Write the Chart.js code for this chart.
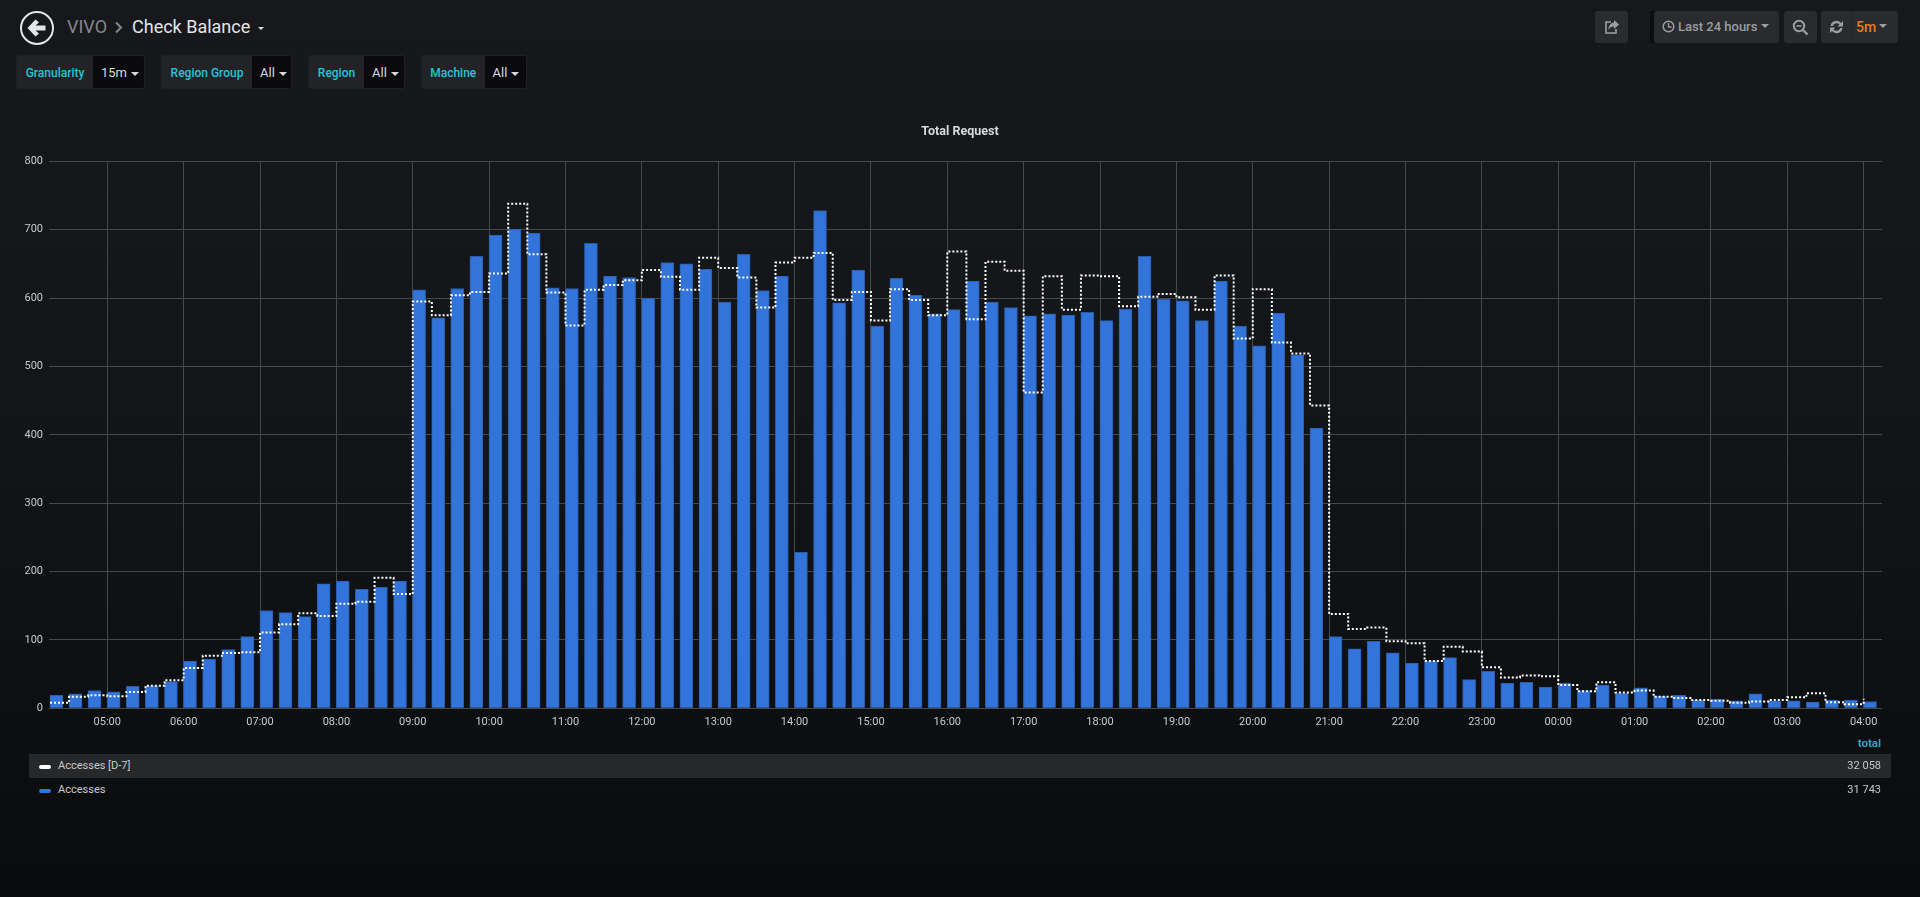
<!DOCTYPE html>
<html>
<head>
<meta charset="utf-8">
<title>Check Balance</title>
<script src="https://cdn.jsdelivr.net/npm/chart.js@4"></script>
<style>
html, body { margin: 0; padding: 0; width: 1920px; height: 897px; overflow: hidden; }
body { background: linear-gradient(#17181b 0, #141518 400px, #0a0b0d 897px); font-family: Roboto, sans-serif; color: #d8d9da; position: relative; }
.abs { position: absolute; white-space: nowrap; }
.crumb { font-size: 18px; line-height: 24px; top: 15px; }
.var { position: absolute; top: 55px; height: 34px; box-sizing: border-box; line-height: 34px; font-size: 12px; border: 1px solid #1f2024; }
.var.lab { background: #222326; color: #24c4d8; font-weight: 500; text-align: center; border-radius: 3px 0 0 3px; border-right: 0; }
.var.val { background: #0a0a0c; color: #d8d9da; font-size: 13px; padding-left: 8px; border-radius: 0 3px 3px 0; border-left: 0; }
.caret { display: inline-block; width: 0; height: 0; border-left: 4.5px solid transparent; border-right: 4.5px solid transparent; border-top: 4.5px solid currentColor; vertical-align: middle; margin-left: 4px; }
.btn { position: absolute; top: 11px; height: 32px; background: #2a2b2e; border-radius: 3px; color: #9b9da1; font-size: 13px; line-height: 32px; font-weight: 500; }
.btn svg { position: absolute; }
#chart-wrap { position: absolute; left: 0; top: 110px; width: 1920px; height: 640px; }
.row { position: absolute; left: 29px; width: 1862px; height: 24px; line-height: 24px; font-size: 11px; color: #c7c9cc; }
.row .swatch { position: absolute; left: 10px; top: 11px; width: 12px; height: 4px; border-radius: 2px; }
.row .name { position: absolute; left: 29px; }
.row .total { position: absolute; right: 10px; }
</style>
</head>
<body>
<svg class="abs" style="left:19px;top:10px" width="36" height="36" viewBox="0 0 36 36">
  <circle cx="18" cy="18" r="16" fill="none" stroke="#e4e5e6" stroke-width="2"/>
  <path d="M8.5 18 L16.5 9.5 L20 12.5 L16.5 15.5 H26.5 V20.5 H16.5 L20 23.5 L16.5 26.5 Z" fill="#e4e5e6"/>
</svg>
<div class="abs crumb" style="left:67px;color:#85878a">VIVO</div>
<svg class="abs" style="left:114px;top:21px" width="10" height="13" viewBox="0 0 10 13"><path d="M2 1.5 L7 6.5 L2 11.5" fill="none" stroke="#85878a" stroke-width="2"/></svg>
<div class="abs crumb" style="left:132px;color:#e4e5e6">Check Balance</div>
<div class="abs" style="left:258px;top:27px;width:0;height:0;border-left:3.5px solid transparent;border-right:3.5px solid transparent;border-top:3.5px solid #d8d9da"></div>

<div id="vars"></div>

<div class="btn" style="left:1595px;width:33px">
  <svg style="left:9px;top:8px" width="16" height="16" viewBox="0 0 16 16"><path d="M10 1 L15 5.5 L10 10 V7.5 C7 7.5 5.5 8.5 4.5 11 C4.5 7 6.5 4 10 3.5 Z" fill="#9b9da1"/><path d="M7 3 H2 V14 H12 V10" fill="none" stroke="#9b9da1" stroke-width="1.6"/></svg>
</div>
<div class="abs" style="left:1650px;top:11px;width:6px;height:32px;background:#0c0d0f"></div>
<div class="btn" style="left:1654px;width:125px">
  <svg style="left:8px;top:9px" width="13" height="13" viewBox="0 0 13 13"><circle cx="6.5" cy="6.5" r="5.3" fill="none" stroke="#9b9da1" stroke-width="1.5"/><path d="M6.5 3 V7 H9.5" fill="none" stroke="#9b9da1" stroke-width="1.3"/></svg>
  <span style="position:absolute;left:24px">Last 24 hours</span>
  <span class="caret" style="position:absolute;left:107px;top:13px;margin:0"></span>
</div>
<div class="btn" style="left:1784px;width:33px">
  <svg style="left:8px;top:8px" width="17" height="17" viewBox="0 0 17 17"><circle cx="7" cy="7" r="5.2" fill="none" stroke="#9b9da1" stroke-width="2"/><path d="M4.5 7 H9.5" stroke="#9b9da1" stroke-width="1.6"/><path d="M11 11 L15.5 15.5" stroke="#9b9da1" stroke-width="2.4"/></svg>
</div>
<div class="btn" style="left:1821px;width:77px">
  <svg style="left:8px;top:8px" width="15" height="16" viewBox="0 0 15 16"><path d="M1.5 7 A6 6 0 0 1 12 4 L14 2 V7.5 H8.5 L10.5 5.5 A4 4 0 0 0 3.8 7 Z M13.5 9 A6 6 0 0 1 3 12 L1 14 V8.5 H6.5 L4.5 10.5 A4 4 0 0 0 11.2 9 Z" fill="#9b9da1"/></svg>
  <div style="position:absolute;left:30px;top:0;width:1px;height:32px;background:#232427"></div>
  <span style="position:absolute;left:35px;color:#eb7b18;font-size:14px">5m</span>
  <span class="caret" style="position:absolute;left:58px;top:13px;margin:0"></span>
</div>

<div id="chart-wrap"><canvas id="totalRequestChart" width="1920" height="640"></canvas></div>

<div class="abs" style="right:39px;top:736px;font-size:11.5px;font-weight:700;color:#2fa3cf">total</div>
<div id="legend"></div>

<script>
const categories = [
  '04:15','04:30','04:45','05:00','05:15','05:30','05:45','06:00','06:15','06:30','06:45','07:00',
  '07:15','07:30','07:45','08:00','08:15','08:30','08:45','09:00','09:15','09:30','09:45','10:00',
  '10:15','10:30','10:45','11:00','11:15','11:30','11:45','12:00','12:15','12:30','12:45','13:00',
  '13:15','13:30','13:45','14:00','14:15','14:30','14:45','15:00','15:15','15:30','15:45','16:00',
  '16:15','16:30','16:45','17:00','17:15','17:30','17:45','18:00','18:15','18:30','18:45','19:00',
  '19:15','19:30','19:45','20:00','20:15','20:30','20:45','21:00','21:15','21:30','21:45','22:00',
  '22:15','22:30','22:45','23:00','23:15','23:30','23:45','00:00','00:15','00:30','00:45','01:00',
  '01:15','01:30','01:45','02:00','02:15','02:30','02:45','03:00','03:15','03:30','03:45','04:00'
];
const accessesD7 = [
  8,17,19,17.5,24,33,41,59,77,81,82,111,
  123,139,135,153,156,191,167,595,575,604,609,636,
  738,664,608,560,612,619,626,641,631,612,659,644,
  630,586,652,659,666,597,609,567,613,597,575,668,
  569,653,640,462,632,583,633,632,588,602,606,601,
  583,633,541,613,535,519,443,138,116,118,98,95,
  69,90,83,60,45,48,47,34,25,38,23,26,
  17,15,12,11,8,10,12,16,22,9,6,14
];
const accesses = [
  19,21,26,24,32,33,39,69,72,86,105,143,
  140,134,182,186,174,177,186,612,571,614,661,692,
  701,695,615,614,680,632,630,600,652,650,642,594,
  664,611,632,228,728,593,641,559,629,604,577,583,
  625,594,586,574,577,575,579,567,584,661,598,596,
  567,625,559,530,578,517,410,105,87,98,81,66,
  69,74,42,54,37,38,31,37,26,34,22,30,
  18,19,12,13,11,21,11,11,9,12,12,10
];
const hourLabels = [
  '05:00','06:00','07:00','08:00','09:00','10:00','11:00','12:00','13:00','14:00','15:00','16:00',
  '17:00','18:00','19:00','20:00','21:00','22:00','23:00','00:00','01:00','02:00','03:00','04:00'
];
const variables = [
  ['Granularity', '15m'],
  ['Region Group', 'All'],
  ['Region', 'All'],
  ['Machine', 'All']
];
const legendRows = [
  ['Accesses [D-7]', '32 058', '#ffffff'],
  ['Accesses', '31 743', '#3274d9']
];

// clock strings to minutes, anything before 04:15 belongs to the next day
function toMinutes(label) {
  const [h, m] = label.split(':').map(Number);
  const minutes = h * 60 + m;
  return minutes < 255 ? minutes + 1440 : minutes;
}

// variable dropdowns
const varBoxes = [[16, 93, 145], [161, 252, 292], [308, 364, 405], [421, 484.5, 526.5]];
document.getElementById('vars').innerHTML = variables.map(([name, value], i) => {
  const [a, b, c] = varBoxes[i];
  return `<div class="var lab" style="left:${a}px;width:${b - a}px">${name}</div>` +
    `<div class="var val" style="left:${b}px;width:${c - b}px">${value}<span class="caret"></span></div>`;
}).join('');

// legend table
document.getElementById('legend').innerHTML = legendRows.map(([name, total, color], i) =>
  `<div class="row" style="top:${754 + i * 24}px;${i === 0 ? 'background:#27282a;' : ''}">` +
  `<span class="swatch" style="background:${color}"></span>` +
  `<span class="name">${name}</span><span class="total">${total}</span></div>`
).join('');

const gridColor = '#47484a';
const tickFont = { family: 'Roboto', size: 11 };
const barOffset = 5; // flot draws the bar from the slot start, chart.js centres it
const rightGap = 38;

new Chart(document.getElementById('totalRequestChart'), {
  type: 'bar',
  data: {
    datasets: [
      {
        type: 'line',
        label: 'Accesses [D-7]',
        data: categories.map((c, i) => ({ x: toMinutes(c), y: accessesD7[i] })),
        borderColor: '#ffffff',
        borderWidth: 2,
        borderDash: [2, 2],
        stepped: true,
        pointRadius: 0,
        fill: false,
        order: 1
      },
      {
        type: 'bar',
        label: 'Accesses',
        data: categories.map((c, i) => ({ x: toMinutes(c) + barOffset, y: accesses[i] })),
        backgroundColor: '#3274d9',
        borderColor: '#2a5cab',
        borderWidth: 1,
        barThickness: 13,
        order: 2
      }
    ]
  },
  plugins: [{
    // title is centred on the whole panel, not on the padded area
    id: 'titleCentre',
    afterLayout: chart => { chart.titleBlock.right += rightGap; }
  }],
  options: {
    responsive: false,
    animation: false,
    layout: { padding: { left: 0, right: rightGap, top: 0, bottom: 0 } },
    plugins: {
      legend: { display: false },
      tooltip: { enabled: false },
      title: {
        display: true,
        text: 'Total Request',
        color: '#d8d9da',
        font: { family: 'Roboto', size: 12.5, weight: 'bold' },
        padding: { top: 14, bottom: 22.3 }
      }
    },
    scales: {
      x: {
        type: 'linear',
        offset: false,
        min: 254.2,
        max: 1694.4,
        grid: { color: gridColor, offset: false, drawTicks: false },
        border: { display: false },
        afterBuildTicks: scale => {
          scale.ticks = hourLabels.map(h => ({ value: toMinutes(h) }));
        },
        afterFit: scale => { scale.height = 41.7; },
        ticks: {
          color: '#c7c9cc',
          font: tickFont,
          padding: 7,
          autoSkip: false,
          maxRotation: 0,
          includeBounds: false,
          callback: (value, index) => hourLabels[index]
        }
      },
      y: {
        min: 0,
        max: 800,
        grid: { color: gridColor, drawTicks: false },
        border: { display: false },
        afterFit: scale => { scale.width = 49; },
        ticks: {
          stepSize: 100,
          color: '#c7c9cc',
          font: tickFont,
          padding: 6
        }
      }
    }
  }
});
</script>
</body>
</html>
